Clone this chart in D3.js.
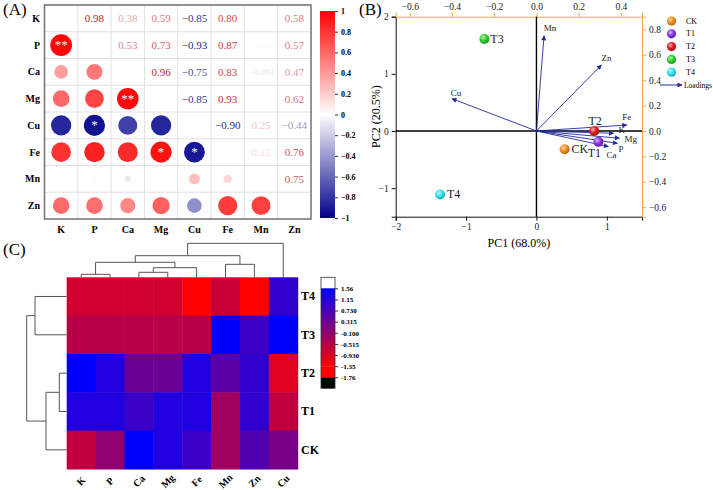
<!DOCTYPE html>
<html><head><meta charset="utf-8">
<script src="https://cdn.jsdelivr.net/npm/d3@7"></script>
<style>
html,body{margin:0;padding:0;background:#fff;}
svg{display:block;font-family:"Liberation Serif","Times New Roman",serif;}
</style></head>
<body><svg id="c" width="713" height="490"></svg>
<script>
// ---------- Panel A data ----------
const vars = ["K","P","Ca","Mg","Cu","Fe","Mn","Zn"];
const corrK  = [1.00, 0.98, 0.38, 0.59, -0.85, 0.80, 0.011, 0.58];
const corrP  = [0.98, 1.00, 0.53, 0.73, -0.93, 0.87, -0.018, 0.57];
const corrCa = [0.38, 0.53, 1.00, 0.96, -0.75, 0.83, -0.083, 0.47];
const corrMg = [0.59, 0.73, 0.96, 1.00, -0.85, 0.93, 0.003, 0.62];
const corrCu = [-0.85,-0.93,-0.75,-0.85, 1.00, -0.90, 0.25, -0.44];
const corrFe = [0.80, 0.87, 0.83, 0.93, -0.90, 1.00, 0.15, 0.76];
const corrMn = [0.011,-0.018,-0.083,0.003, 0.25, 0.15, 1.00, 0.75];
const corrZn = [0.58, 0.57, 0.47, 0.62, -0.44, 0.76, 0.75, 1.00];
const signif = [["P","K","**"],["Mg","Ca","**"],["Cu","P","*"],["Fe","Mg","*"],["Fe","Cu","*"]];
const corrTicks = [1,0.8,0.6,0.4,0.2,0,-0.2,-0.4,-0.6,-0.8,-1];

// ---------- Panel B data ----------
const samples = ["CK","T1","T2","T3","T4"];
const sampleColors = ["#f08a1e","#8a2fe0","#e01818","#2ecc2e","#2fe2f0"];
const pc1 = [0.40, 0.88, 0.82, -0.74, -1.37];
const pc2 = [-0.32, -0.19, 0.00, 1.61, -1.11];
const loadNames = ["K","P","Ca","Mg","Cu","Fe","Mn","Zn"];
const load1 = [0.365, 0.384, 0.341, 0.393, -0.400, 0.428, 0.036, 0.308];
const load2 = [-0.018, -0.097, -0.123, -0.057, 0.254, 0.047, 0.750, 0.520];
const pc1Ticks = [-2,-1,0,1];
const pc2Ticks = [-1,0,1,2];
const load1Ticks = [-0.6,-0.4,-0.2,0,0.2,0.4];
const load2Ticks = [-0.6,-0.4,-0.2,0,0.2,0.4,0.6,0.8];

// ---------- Panel C data ----------
const hmCols = ["K","P","Ca","Mg","Fe","Mn","Zn","Cu"];
const hmRows = ["T4","T3","T2","T1","CK"];
const zT4 = [-0.81,-0.81,-0.81,-0.81,-1.45,-0.72,-1.42, 1.01];
const zT3 = [-0.54,-0.54,-0.54,-0.54,-0.54, 1.62, 0.90, 1.58];
const zT2 = [ 1.60, 1.20, 0.35, 0.35, 1.20, 0.53, 1.01,-1.00];
const zT1 = [ 1.20, 1.20, 0.90, 1.20, 1.20,-0.27, 1.01,-0.63];
const zCK = [-0.63,-0.08, 1.60, 1.20, 0.90,-0.27, 0.65, 0.19];
const hmLegendTicks = ["1.56","1.15","0.730","0.315","-0.100","-0.515","-0.930","-1.35","-1.76"];
const colDendro = {h:34, c:[{h:21.6, c:[{h:15, c:[{h:3, c:["K","P"]},{h:9.6, c:[{h:5, c:["Ca","Mg"]},"Fe"]}]},{h:13, c:["Mn","Zn"]}]},"Cu"]};
const rowDendro = {h:40, c:[{h:31.7, c:["T4","T3"]},{h:20.7, c:[{h:7.4, c:["T2","T1"]},"CK"]}]};

const svg = d3.select("#c");
const defs = svg.append("defs");

// ================= Panel A =================
const corrRows = [corrK,corrP,corrCa,corrMg,corrCu,corrFe,corrMn,corrZn];
const ax = d3.scaleBand().domain(vars).range([44.5, 311]);
const ay = d3.scaleBand().domain(vars).range([5, 219]);
const corrCol = d3.scaleLinear().domain([-1,0,1]).range(["#00008b","#ffffff","#ff0000"]).clamp(true);
const txtCol = d3.scaleLinear().domain([-1,0,1]).range(["#141470","#ffffff","#b8202a"]).clamp(true);
const rScale = d3.scaleSqrt().domain([0,1]).range([0, 0.82*Math.min(ax.bandwidth(), ay.bandwidth())/2]);
const gA = svg.append("g");
vars.forEach((v,i)=>{
  gA.append("line").attr("x1",ax(v)).attr("x2",ax(v)).attr("y1",5).attr("y2",219).attr("stroke","#e2e2e2");
  gA.append("line").attr("y1",ay(v)).attr("y2",ay(v)).attr("x1",44.5).attr("x2",311).attr("stroke","#e2e2e2");
});
const cells = [];
vars.forEach((rv,i)=>vars.forEach((cv,j)=>cells.push({rv,cv,i,j,v:corrRows[i][j]})));
gA.selectAll("circle.c").data(cells.filter(d=>d.i>d.j)).join("circle")
  .attr("cx",d=>ax(d.cv)+ax.bandwidth()/2).attr("cy",d=>ay(d.rv)+ay.bandwidth()/2)
  .attr("r",d=>rScale(Math.abs(d.v))).attr("fill",d=>corrCol(d.v));
const fmtC = v => Math.abs(v) < 0.1 ? d3.format(".2~g")(v) : d3.format(".2f")(v);
gA.selectAll("text.n").data(cells.filter(d=>d.i<d.j)).join("text")
  .attr("x",d=>ax(d.cv)+ax.bandwidth()/2).attr("y",d=>ay(d.rv)+ay.bandwidth()/2)
  .attr("text-anchor","middle").attr("dominant-baseline","central")
  .attr("font-size", d=>Math.abs(d.v)<0.1?9:11).attr("fill",d=>txtCol(d.v)).text(d=>fmtC(d.v));
gA.selectAll("text.s").data(signif).join("text")
  .attr("x",d=>ax(d[1])+ax.bandwidth()/2).attr("y",d=>ay(d[0])+ay.bandwidth()/2+4)
  .attr("text-anchor","middle").attr("font-size",13).attr("fill","#fff").text(d=>d[2]);
gA.append("rect").attr("x",44.5).attr("y",5).attr("width",311-44.5).attr("height",214)
  .attr("fill","none").attr("stroke","#7a7a7a").attr("stroke-width",1.6);
gA.selectAll("text.rl").data(vars).join("text").attr("x",40).attr("y",d=>ay(d)+ay.bandwidth()/2)
  .attr("text-anchor","end").attr("dominant-baseline","central").attr("font-size",10).attr("font-weight","bold").text(d=>d);
gA.selectAll("text.cl").data(vars).join("text").attr("x",d=>ax(d)+ax.bandwidth()/2).attr("y",229)
  .attr("text-anchor","middle").attr("dominant-baseline","central").attr("font-size",10).attr("font-weight","bold").text(d=>d);
const gradA = defs.append("linearGradient").attr("id","gA").attr("x1",0).attr("x2",0).attr("y1",0).attr("y2",1);
[1,0.5,0,-0.5,-1].forEach(v=>gradA.append("stop").attr("offset",(1-v)/2).attr("stop-color",corrCol(v)));
const cbY = d3.scaleLinear().domain([1,-1]).range([11,218]);
gA.append("rect").attr("x",320).attr("y",11).attr("width",15).attr("height",207).attr("fill","url(#gA)");
const cbAx = gA.append("g").attr("transform","translate(335,0)")
  .call(d3.axisRight(cbY).tickValues(corrTicks).tickSize(3).tickFormat(d3.format("~g")));
cbAx.select(".domain").remove();
cbAx.selectAll("text").attr("font-size",8).attr("font-weight","bold").attr("font-family","Liberation Serif");
cbAx.selectAll("line").attr("stroke","#333");
svg.append("text").attr("x",3).attr("y",15).attr("font-size",17).text("(A)");

// ================= Panel B =================
const gB = svg.append("g");
const L=395.7, R=642, T=16.7, B=216.7;
const x1 = d3.scaleLinear().domain([-2,1.5]).range([L,R]);
const y1 = d3.scaleLinear().domain([-1.5,2]).range([B,T]);
const x2 = d3.scaleLinear().domain([-2/3,0.5]).range([L,R]);
const y2 = d3.scaleLinear().domain([-0.675,0.9]).range([B,T]);
const orange = "#eaa657";
function styleAx(g, col){ g.selectAll("text").attr("font-size",9.5).attr("font-family","Liberation Serif").attr("fill","#222");
  g.select(".domain").attr("stroke",col); g.selectAll("line").attr("stroke",col); }
styleAx(gB.append("g").attr("transform",`translate(0,${B})`).call(d3.axisBottom(x1).tickValues(pc1Ticks).tickSize(4).tickFormat(d3.format("d"))),"#111");
styleAx(gB.append("g").attr("transform",`translate(${L},0)`).call(d3.axisLeft(y1).tickValues(pc2Ticks).tickSize(4).tickFormat(d3.format("d"))),"#111");
styleAx(gB.append("g").attr("transform",`translate(0,${T})`).call(d3.axisTop(x2).tickValues(load1Ticks).tickSize(4).tickFormat(d3.format(".1f"))),orange);
styleAx(gB.append("g").attr("transform",`translate(${R},0)`).call(d3.axisRight(y2).tickValues(load2Ticks).tickSize(4).tickFormat(d3.format(".1f"))),orange);
gB.append("line").attr("x1",x1(0)).attr("x2",x1(0)).attr("y1",T).attr("y2",B).attr("stroke","#000").attr("stroke-width",1.4);
gB.append("line").attr("y1",y1(0)).attr("y2",y1(0)).attr("x1",L).attr("x2",R).attr("stroke","#000").attr("stroke-width",1.4);
gB.append("text").attr("x",(L+R)/2).attr("y",247).attr("text-anchor","middle").attr("font-size",12).text("PC1 (68.0%)");
gB.append("text").attr("transform",`translate(380,${(T+B)/2}) rotate(-90)`).attr("text-anchor","middle").attr("font-size",12).text("PC2 (20.5%)");
svg.append("text").attr("x",359).attr("y",15).attr("font-size",17).text("(B)");
const arrowCol = "#1f2a9c";
defs.append("marker").attr("id","ah").attr("viewBox","0 0 10 10").attr("refX",9).attr("refY",5)
  .attr("markerWidth",7).attr("markerHeight",5).attr("markerUnits","userSpaceOnUse").attr("orient","auto")
  .append("path").attr("d","M0,0L10,5L0,10z").attr("fill",arrowCol);
const loadLbl = {K:[5,-3,"start"],P:[1,6,"start"],Ca:[3,8,"middle"],Mg:[5,1,"start"],Cu:[4,-6,"middle"],Fe:[0,-8,"middle"],Mn:[6,-8,"middle"],Zn:[5,-7,"middle"]};
loadNames.forEach((n,i)=>{
  gB.append("line").attr("x1",x2(0)).attr("y1",y2(0)).attr("x2",x2(load1[i])).attr("y2",y2(load2[i]))
    .attr("stroke",arrowCol).attr("stroke-width",0.9).attr("marker-end","url(#ah)");
});
loadNames.forEach((n,i)=>{
  const o = loadLbl[n];
  gB.append("text").attr("x",x2(load1[i])+o[0]).attr("y",y2(load2[i])+o[1]).attr("text-anchor",o[2])
    .attr("dominant-baseline","central").attr("font-size",9).attr("fill","#222").text(n);
});
samples.forEach((s,i)=>{
  const c = d3.color(sampleColors[i]);
  const g = defs.append("radialGradient").attr("id","sp"+i).attr("cx","38%").attr("cy","35%").attr("r","65%");
  g.append("stop").attr("offset","0%").attr("stop-color",d3.interpolateRgb(c,"#fff")(0.65));
  g.append("stop").attr("offset","55%").attr("stop-color",c.formatHex());
  g.append("stop").attr("offset","100%").attr("stop-color",c.darker(0.8).formatHex());
});
const ptLbl = {CK:[7,0,"start"],T1:[-4,11,"middle"],T2:[1,-10,"middle"],T3:[6,0,"start"],T4:[7,0,"start"]};
samples.forEach((s,i)=>{
  gB.append("circle").attr("cx",x1(pc1[i])).attr("cy",y1(pc2[i])).attr("r",5).attr("fill",`url(#sp${i})`);
  const o = ptLbl[s];
  gB.append("text").attr("x",x1(pc1[i])+o[0]).attr("y",y1(pc2[i])+o[1]).attr("text-anchor",o[2])
    .attr("dominant-baseline","central").attr("font-size",12).attr("fill","#222").text(s);
});
const legY = d3.scalePoint().domain([...samples,"Loadings"]).range([21,85]);
samples.forEach((s,i)=>{
  gB.append("circle").attr("cx",671.5).attr("cy",legY(s)).attr("r",4.6).attr("fill",`url(#sp${i})`);
  gB.append("text").attr("x",686).attr("y",legY(s)).attr("dominant-baseline","central").attr("font-size",8).text(s);
});
gB.append("line").attr("x1",660).attr("x2",682).attr("y1",legY("Loadings")).attr("y2",legY("Loadings"))
  .attr("stroke",arrowCol).attr("stroke-width",1).attr("marker-end","url(#ah)");
gB.append("text").attr("x",684).attr("y",legY("Loadings")).attr("dominant-baseline","central").attr("font-size",7.5).text("Loadings");

// ================= Panel C =================
const gC = svg.append("g");
const zRows = [zT4,zT3,zT2,zT1,zCK];
const hx = d3.scaleBand().domain(hmCols).range([66.7,297.7]);
const hy = d3.scaleBand().domain(hmRows).range([277.3,469]);
const hmCol = d3.scaleLinear().domain([-1.35,1.56]).range(["#ff0000","#0000ff"]).clamp(true);
hmRows.forEach((r,i)=>hmCols.forEach((c,j)=>{
  gC.append("rect").attr("x",hx(c)).attr("y",hy(r)).attr("width",hx.bandwidth()+0.5).attr("height",hy.bandwidth()+0.5)
    .attr("fill",hmCol(zRows[i][j]));
}));
gC.selectAll("text.rl").data(hmRows).join("text").attr("x",301).attr("y",d=>hy(d)+hy.bandwidth()/2)
  .attr("dominant-baseline","central").attr("font-size",12).attr("font-weight","bold").text(d=>d);
gC.selectAll("text.cl").data(hmCols).join("text")
  .attr("transform",d=>`translate(${hx(d)+hx.bandwidth()/2},${481}) rotate(-45)`)
  .attr("text-anchor","middle").attr("dominant-baseline","central").attr("font-size",10).attr("font-weight","bold").text(d=>d);
function drawTree(node, posOf, hToPix, vertical){
  if (typeof node === "string") return {p: posOf(node), h: 0};
  const kids = node.c.map(k=>drawTree(k,posOf,hToPix,vertical));
  const hp = hToPix(node.h);
  kids.forEach(k=>{
    if (vertical) gC.append("line").attr("x1",k.p).attr("x2",k.p).attr("y1",hToPix(k.h)).attr("y2",hp);
    else gC.append("line").attr("y1",k.p).attr("y2",k.p).attr("x1",hToPix(k.h)).attr("x2",hp);
  });
  const ps = kids.map(k=>k.p);
  if (vertical) gC.append("line").attr("x1",d3.min(ps)).attr("x2",d3.max(ps)).attr("y1",hp).attr("y2",hp);
  else gC.append("line").attr("y1",d3.min(ps)).attr("y2",d3.max(ps)).attr("x1",hp).attr("x2",hp);
  return {p: d3.mean(ps), h: node.h};
}
const colH = d3.scaleLinear().domain([0,34]).range([277.3,243.3]);
const rowH = d3.scaleLinear().domain([0,40]).range([66.7,26.7]);
drawTree(colDendro, d=>hx(d)+hx.bandwidth()/2, colH, true);
drawTree(rowDendro, d=>hy(d)+hy.bandwidth()/2, rowH, false);
gC.selectAll("line").attr("stroke","#555").attr("stroke-width",1);
const lgY = d3.scalePoint().domain(hmLegendTicks).range([288.3,377.3]);
const gradC = defs.append("linearGradient").attr("id","gC").attr("x1",0).attr("x2",0).attr("y1",0).attr("y2",1);
d3.range(0,1.0001,0.1).forEach(t=>gradC.append("stop").attr("offset",t).attr("stop-color",hmCol(1.56-t*(1.56+1.35))));
const lgTopV = lgY("1.56"), lgRed = lgY("-1.35"), lgBot = lgY("-1.76");
gC.append("rect").attr("x",321).attr("y",277.3).attr("width",14).attr("height",lgTopV-277.3).attr("fill","#fff");
gC.append("rect").attr("x",321).attr("y",lgTopV).attr("width",14).attr("height",lgRed-lgTopV).attr("fill","url(#gC)");
gC.append("rect").attr("x",321).attr("y",lgRed).attr("width",14).attr("height",lgBot-lgRed).attr("fill","#ff0000");
gC.append("rect").attr("x",321).attr("y",lgBot).attr("width",14).attr("height",11).attr("fill","#000");
gC.append("rect").attr("x",321).attr("y",277.3).attr("width",14).attr("height",lgBot+11-277.3).attr("fill","none").attr("stroke","#333").attr("stroke-width",0.8);
const lgAx = gC.append("g").attr("transform","translate(335,0)").call(d3.axisRight(lgY).tickSize(3));
lgAx.select(".domain").remove();
lgAx.selectAll("line").attr("stroke","#333");
lgAx.selectAll("text").attr("font-size",7).attr("font-weight","bold").attr("font-family","Liberation Serif");
svg.append("text").attr("x",3).attr("y",255).attr("font-size",17).text("(C)");
</script></body></html>
